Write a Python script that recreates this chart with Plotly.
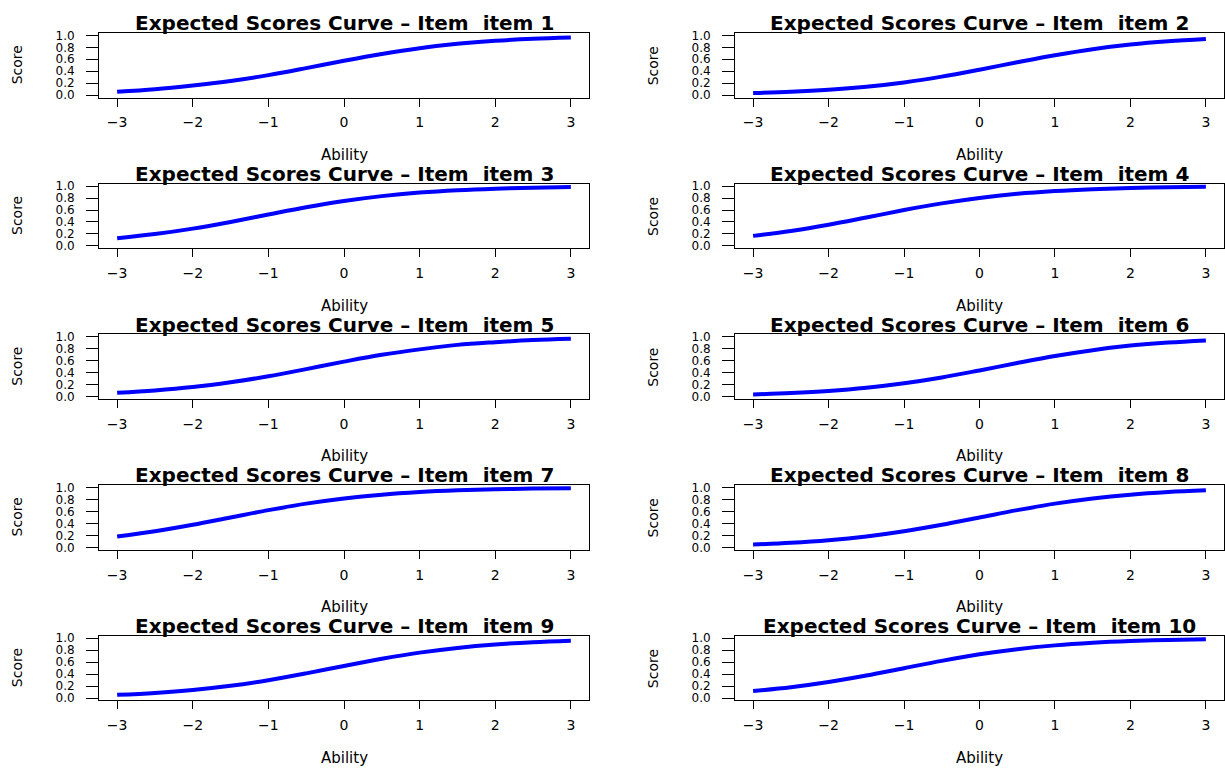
import plotly.graph_objects as go

# ---------------- data ----------------
ability = [-3.0, -2.5, -2.0, -1.5, -1.0, -0.5, 0.0, 0.5, 1.0, 1.5, 2.0, 2.5, 3.0]

item_names = ["item 1", "item 2", "item 3", "item 4", "item 5",
              "item 6", "item 7", "item 8", "item 9", "item 10"]

score_item1 = [0.058, 0.100, 0.163, 0.238, 0.335, 0.452, 0.576, 0.690, 0.786, 0.858, 0.909, 0.943, 0.964]
score_item2 = [0.036, 0.057, 0.091, 0.142, 0.214, 0.310, 0.426, 0.550, 0.668, 0.769, 0.846, 0.900, 0.937]
score_item3 = [0.130, 0.198, 0.289, 0.401, 0.525, 0.646, 0.750, 0.832, 0.891, 0.931, 0.957, 0.973, 0.984]
score_item4 = [0.168, 0.250, 0.354, 0.475, 0.599, 0.711, 0.802, 0.870, 0.917, 0.948, 0.968, 0.980, 0.988]
score_item5 = [0.066, 0.104, 0.160, 0.240, 0.340, 0.460, 0.585, 0.700, 0.790, 0.865, 0.910, 0.945, 0.966]
score_item6 = [0.037, 0.060, 0.095, 0.148, 0.223, 0.320, 0.438, 0.562, 0.679, 0.777, 0.853, 0.905, 0.940]
score_item7 = [0.182, 0.269, 0.378, 0.500, 0.622, 0.731, 0.818, 0.881, 0.924, 0.953, 0.971, 0.982, 0.989]
score_item8 = [0.047, 0.076, 0.119, 0.182, 0.269, 0.378, 0.500, 0.622, 0.731, 0.818, 0.881, 0.924, 0.953]
score_item9 = [0.055, 0.087, 0.136, 0.206, 0.299, 0.413, 0.537, 0.657, 0.760, 0.839, 0.896, 0.934, 0.959]
score_item10 = [0.119, 0.182, 0.269, 0.378, 0.500, 0.622, 0.731, 0.818, 0.881, 0.924, 0.953, 0.971, 0.982]

scores = [score_item1, score_item2, score_item3, score_item4, score_item5,
          score_item6, score_item7, score_item8, score_item9, score_item10]

x_ticks = [-3, -2, -1, 0, 1, 2, 3]
y_ticks = [0.0, 0.2, 0.4, 0.6, 0.8, 1.0]
y_ticklabels = ["0.0", "0.2", "0.4", "0.6", "0.8", "1.0"]

# ---------------- layout geometry (pixels) ----------------
W, H = 1225, 773
col_left = [99.0, 735.0]
col_right = [589.0, 1224.0]
row_top0 = 29.3
box_h = 65.4
pitch = 152.5

FONT = "DejaVu Sans, Liberation Sans, Arial, sans-serif"

fig = go.Figure()
annotations = []
layout_axes = {}

for i, (name, sc) in enumerate(zip(item_names, scores)):
    r, c = divmod(i, 2)
    k = i + 1
    xa = "x" if k == 1 else f"x{k}"
    ya = "y" if k == 1 else f"y{k}"
    fig.add_trace(go.Scatter(
        x=ability, y=sc, mode="lines", xaxis=xa, yaxis=ya,
        line=dict(color="#0000ff", width=4, shape="spline", smoothing=1.0),
        showlegend=False, hoverinfo="x+y"))

    x0 = col_left[c] / W
    x1 = col_right[c] / W
    top = row_top0 + r * pitch
    bot = top + box_h
    y1 = 1 - top / H
    y0 = 1 - bot / H

    xkey = "xaxis" if k == 1 else f"xaxis{k}"
    ykey = "yaxis" if k == 1 else f"yaxis{k}"
    layout_axes[xkey] = dict(
        domain=[x0, x1], anchor=ya, range=[-3.24, 3.24],
        tickmode="array", tickvals=x_ticks,
        ticks="outside", ticklen=8, tickwidth=1, tickcolor="black",
        ticklabelstandoff=4,
        showline=True, linecolor="black", linewidth=1, mirror=True,
        showgrid=False, zeroline=False,
        tickfont=dict(family=FONT, size=14, color="black"))
    layout_axes[ykey] = dict(
        domain=[y0, y1], anchor=xa, range=[-0.04, 1.04],
        tickmode="array", tickvals=y_ticks, ticktext=y_ticklabels,
        ticks="outside", ticklen=12, tickwidth=1, tickcolor="black",
        ticklabelstandoff=9,
        showline=True, linecolor="black", linewidth=1, mirror=True,
        showgrid=False, zeroline=False,
        tickfont=dict(family=FONT, size=12, color="black"))

    cx = (col_left[c] + col_right[c]) / 2 / W
    # title
    annotations.append(dict(
        text=f"<b>Expected Scores Curve \u2013 Item  {name}</b>",
        x=cx, y=1 - (top - 9.8) / H, xref="paper", yref="paper",
        xanchor="center", yanchor="middle", showarrow=False,
        font=dict(family=FONT, size=20, color="black")))
    # x label
    annotations.append(dict(
        text="Ability", x=cx, y=1 - (bot + 58) / H, xref="paper", yref="paper",
        xanchor="center", yanchor="middle", showarrow=False,
        font=dict(family=FONT, size=15, color="black")))
    # y label
    annotations.append(dict(
        text="Score", x=(col_left[c] - 82) / W, y=1 - (top + box_h / 2) / H,
        xref="paper", yref="paper", xanchor="center", yanchor="middle",
        showarrow=False, textangle=-90,
        font=dict(family=FONT, size=14, color="black")))

fig.update_layout(
    width=W, height=H,
    margin=dict(l=0, r=0, t=0, b=0),
    paper_bgcolor="white", plot_bgcolor="white",
    annotations=annotations,
    showlegend=False,
    **layout_axes)

fig.write_html("out.html",
               config={"displayModeBar": False},
               post_script="document.body.style.margin='0';document.body.style.overflow='hidden';")
